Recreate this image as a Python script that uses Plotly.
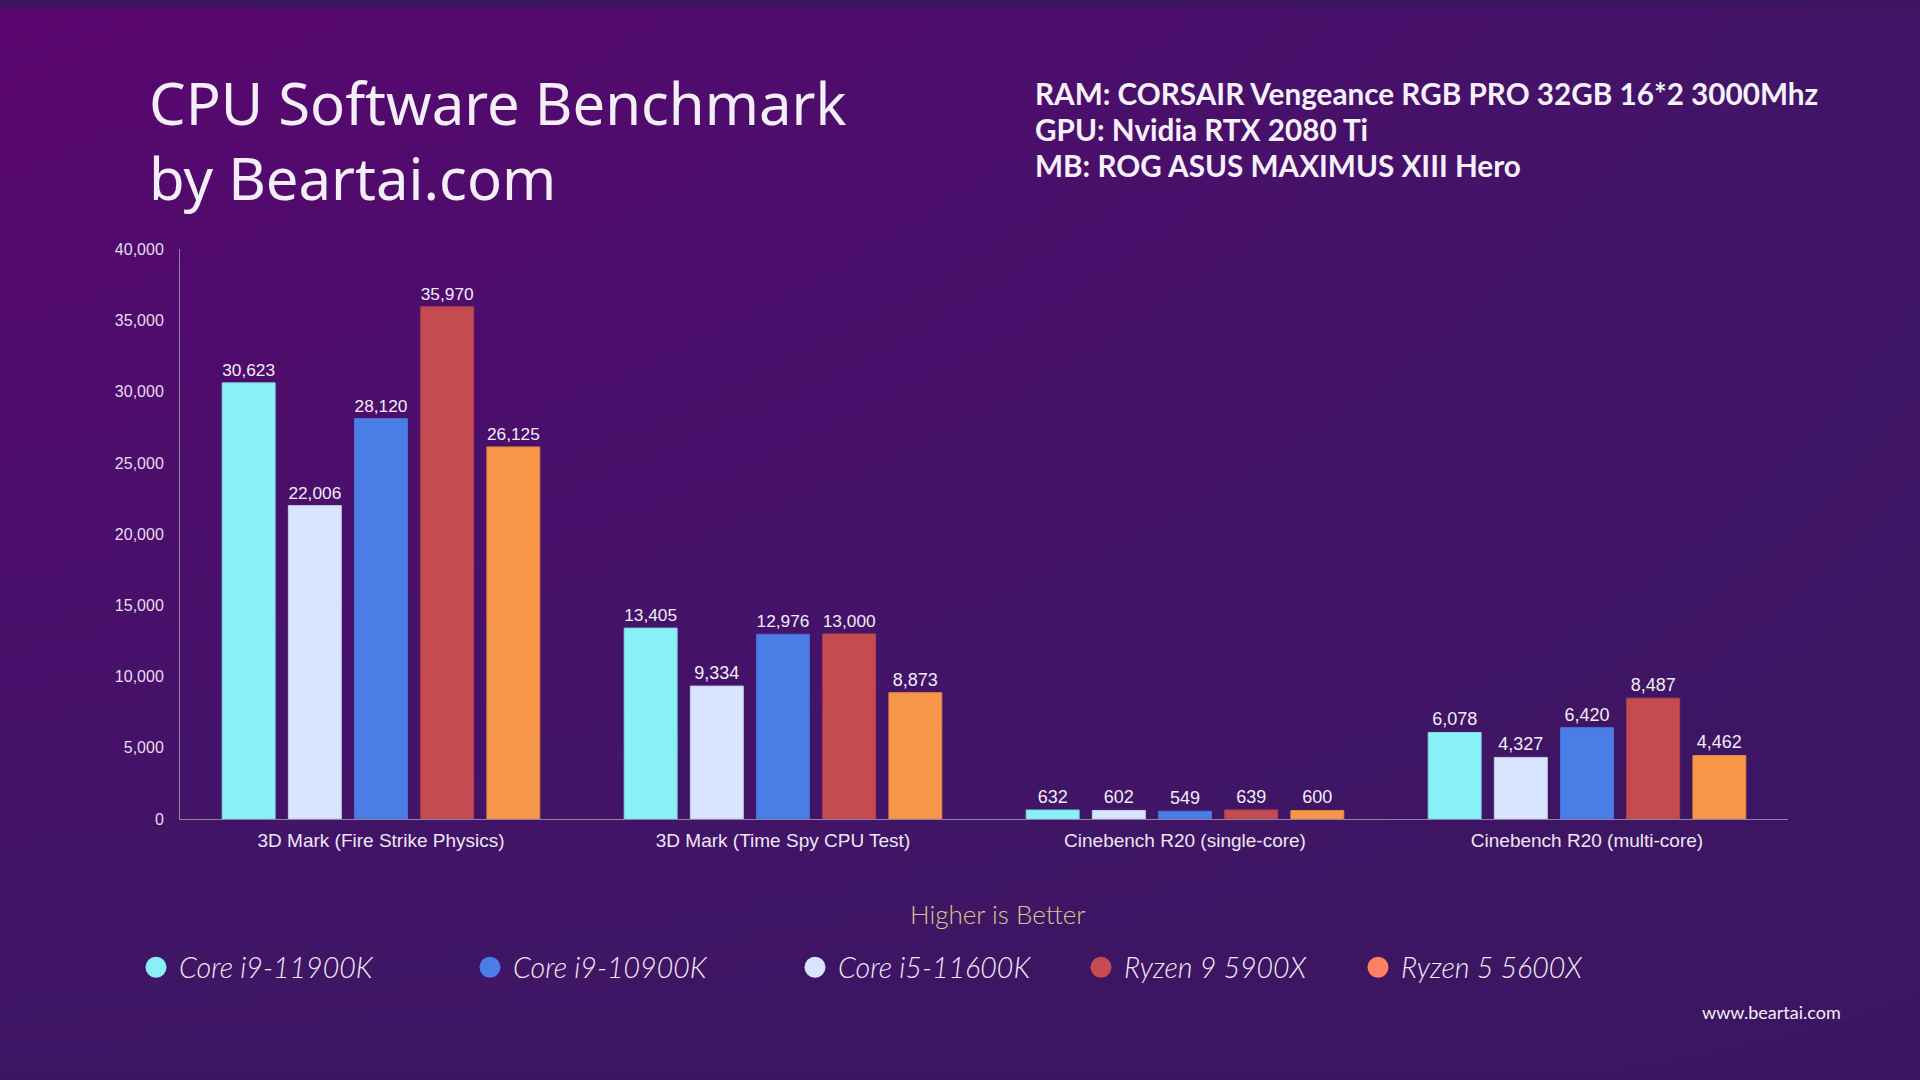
import plotly.graph_objects as go

W, H = 1920, 1080

categories = ["3D Mark (Fire Strike Physics)", "3D Mark (Time Spy CPU Test)",
              "Cinebench R20 (single-core)", "Cinebench R20 (multi-core)"]
series_names = ["Core i9-11900K", "Core i5-11600K", "Core i9-10900K", "Ryzen 9 5900X", "Ryzen 5 5600X"]
i9_11900k = [30623, 13405, 632, 6078]
i5_11600k = [22006, 9334, 602, 4327]
i9_10900k = [28120, 12976, 549, 6420]
r9_5900x = [35970, 13000, 639, 8487]
r5_5600x = [26125, 8873, 600, 4462]
series_values = [i9_11900k, i5_11600k, i9_10900k, r9_5900x, r5_5600x]
bar_colors = ["#8AF0F7", "#D9E4FF", "#4A7DE6", "#C44B4F", "#F79548"]
bar_edges = ["#7FD6E6", "#C3CCEB", "#4470D0", "#B04249", "#E0853F"]

legend_names = ["Core i9-11900K", "Core i9-10900K", "Core i5-11600K", "Ryzen 9 5900X", "Ryzen 5 5600X"]
legend_colors = ["#8AF0F7", "#4A7DE6", "#D9E4FF", "#C44B4F", "#FF8060"]

y_ticks = [0, 5000, 10000, 15000, 20000, 25000, 30000, 35000, 40000]


def py(t):
    """paper y for a target pixel row (compensates the capture's vertical mapping)"""
    return 1 - ((t - 8) / 0.983) / H


fig = go.Figure()

# background gradient (style only) on full-paper axes x/y
fig.add_trace(go.Heatmap(
    z=[[0.10, 0.0], [1.0, 0.22]], x=[0, 1], y=[0, 1],
    colorscale=[[0, "#3B1660"], [0.25, "#421468"], [1, "#5A056F"]],
    zmin=0, zmax=1, zsmooth="best", showscale=False, hoverinfo="skip",
    xaxis="x", yaxis="y"))

for name, vals, col, edge in zip(series_names, series_values, bar_colors, bar_edges):
    fig.add_trace(go.Bar(
        x=categories, y=vals, name=name, marker=dict(color=col, line=dict(color=edge, width=1)),
        text=vals, texttemplate="%{y:,}", textposition="outside",
        textfont=dict(family="Arial, Liberation Sans", size=18, color="#F2ECF7"),
        cliponaxis=False, showlegend=False, xaxis="x2", yaxis="y2"))

x0d, x1d = 180 / W, 1788 / W
y0d, y1d = py(818), py(249)

axis_col = "#8D84A3"
fig.update_layout(
    width=W, height=H, margin=dict(l=0, r=0, t=0, b=0),
    paper_bgcolor="#3C1560", plot_bgcolor="rgba(0,0,0,0)",
    barmode="group", bargap=0.177, bargroupgap=0.2,
    xaxis=dict(domain=[0, 1], range=[0, 1], visible=False, fixedrange=True),
    yaxis=dict(domain=[0, 1], range=[0, 1], visible=False, fixedrange=True),
    xaxis2=dict(domain=[x0d, x1d], anchor="y2", showline=True, linecolor=axis_col, linewidth=1,
                showgrid=False, ticks="", ticklabelstandoff=4,
                tickfont=dict(family="Arial, Liberation Sans", size=19, color="#EDE6F5")),
    yaxis2=dict(domain=[y0d, y1d], anchor="x2", range=[0, 40000], tickvals=y_ticks,
                tickformat=",", showline=True, linecolor=axis_col, linewidth=1,
                showgrid=False, zeroline=False, ticks="", ticklabelstandoff=12,
                tickfont=dict(family="Arial, Liberation Sans", size=16, color="#E6DEF0")),
    showlegend=False,
)

anns = []
anns.append(dict(text="CPU Software Benchmark<br>by Beartai.com", x=147 / W, y=1 - 134 / H,
                 xanchor="left", yanchor="middle", align="left",
                 font=dict(family="Noto Sans", size=58, color="#F4EEF8")))
spec_lines = ["RAM: CORSAIR Vengeance RGB PRO 32GB 16*2 3000Mhz",
              "GPU: Nvidia RTX 2080 Ti",
              "MB: ROG ASUS MAXIMUS XIII Hero"]
for i, t in enumerate(spec_lines):
    anns.append(dict(text=t, x=1033 / W, y=1 - (87 + 36.6 * i) / H, xanchor="left", yanchor="middle",
                     font=dict(family="Lato", size=29.7, weight=700, color="#F6F0FA")))
anns.append(dict(text="Higher is Better", x=998 / W, y=py(913), xanchor="center", yanchor="middle",
                 font=dict(family="Lato", size=26, weight=300, color="#D9C78C")))
anns.append(dict(text="www.beartai.com", x=1843 / W, y=py(1011), xanchor="right", yanchor="middle",
                 font=dict(family="Lato", size=18, color="#F4EEF8")))

circle_x = [156, 490, 815, 1101, 1378]
shapes = []
r = 10.5
ly = 966
for cx, nm, col in zip(circle_x, legend_names, legend_colors):
    shapes.append(dict(type="circle", xref="paper", yref="paper",
                       x0=(cx - r) / W, x1=(cx + r) / W, y0=py(ly + r), y1=py(ly - r),
                       fillcolor=col, line=dict(width=0)))
    anns.append(dict(text=nm, x=(cx + 21) / W, y=py(ly), xanchor="left", yanchor="middle",
                     font=dict(family="Lato", size=28.5, weight=300, style="italic", color="#F0EAF6")))

for a in anns:
    a.update(xref="paper", yref="paper", showarrow=False)
fig.update_layout(annotations=anns, shapes=shapes)

post = ("document.documentElement.style.margin='0';"
        "document.body.style.margin='0';document.body.style.overflow='hidden';"
        "var gd=document.getElementById('{plot_id}');"
        "gd.style.position='fixed';gd.style.left='0px';gd.style.top='0px';")
fig.write_html("out.html", config={"displayModeBar": False}, post_script=post)
